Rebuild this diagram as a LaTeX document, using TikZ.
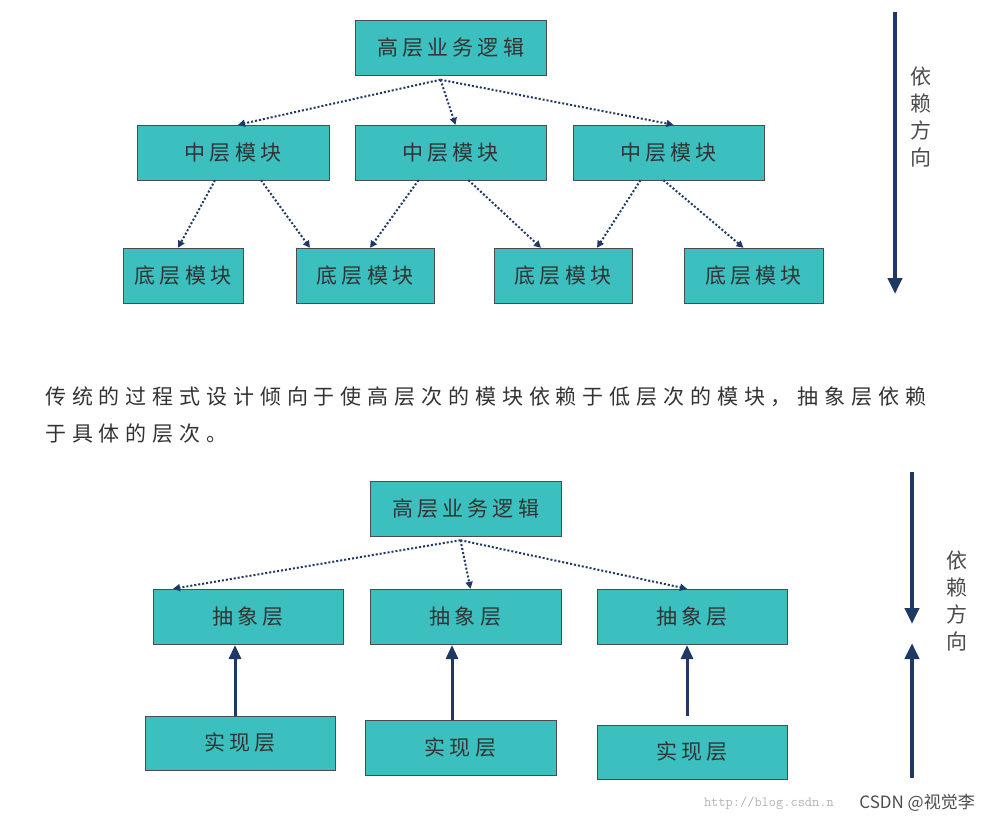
\documentclass[tikz,border=0pt]{standalone}
\usepackage{fontspec}
\setmainfont{Noto Sans CJK SC}
\usetikzlibrary{arrows.meta}
\definecolor{tealbox}{HTML}{3CBFBF}
\definecolor{navy}{HTML}{1F3864}
\begin{document}
\begin{tikzpicture}[x=1pt,y=-1pt,
 box/.style={draw=black!70,fill=tealbox,minimum height=55pt,inner sep=0pt,font=\fontsize{21}{22}\selectfont\addfontfeatures{LetterSpace=20},text=black!80},
 dep/.style={navy,line width=2pt,dotted,-{Triangle[length=7pt,width=7pt]}},
 big/.style={navy,line width=4pt,-{Triangle[length=16pt,width=14pt]}},
 vt/.style={font=\fontsize{21}{27}\selectfont,text=black!70,align=center},
 para/.style={anchor=west,font=\fontsize{21}{22}\selectfont\addfontfeatures{LetterSpace=28},text=black!80,inner sep=0pt}]
\useasboundingbox (0,0) rectangle (987,824);
% top diagram
\node[box,minimum width=191pt] (h1) at (450.5,48) {高层业务逻辑};
\node[box,minimum width=192pt] (m1) at (233,152.5) {中层模块};
\node[box,minimum width=191pt] (m2) at (450.5,152.5) {中层模块};
\node[box,minimum width=191pt] (m3) at (668.5,152.5) {中层模块};
\node[box,minimum width=120pt] (b1) at (183,275.5) {底层模块};
\node[box,minimum width=138pt] (b2) at (365,275.5) {底层模块};
\node[box,minimum width=138pt] (b3) at (563,275.5) {底层模块};
\node[box,minimum width=139pt] (b4) at (753.5,275.5) {底层模块};
\draw[dep] (h1.south) ++(-10,4) -- ([xshift=5pt]m1.north);
\draw[dep] (h1.south) ++(-10,4) -- ([xshift=5pt]m2.north);
\draw[dep] (h1.south) ++(-10,4) -- ([xshift=5pt]m3.north);
\draw[dep] ([xshift=-18pt]m1.south) -- ([xshift=-5pt]b1.north);
\draw[dep] ([xshift=28pt]m1.south) -- ([xshift=-55pt]b2.north);
\draw[dep] ([xshift=-32pt]m2.south) -- ([xshift=5pt]b2.north);
\draw[dep] ([xshift=18pt]m2.south) -- ([xshift=-22pt]b3.north);
\draw[dep] ([xshift=-28pt]m3.south) -- ([xshift=34pt]b3.north);
\draw[dep] ([xshift=-5pt]m3.south) -- ([xshift=-10pt]b4.north);
\coordinate (a1s) at (895,12); \coordinate (a1e) at (895,294);
\draw[big] (a1s) -- (a1e);
\node[vt] (t1) at (921,117) {依\\赖\\方\\向};
% text
\node[para] (p1) at (45,397) {传统的过程式设计倾向于使高层次的模块依赖于低层次的模块，抽象层依赖};
\node[para] (p2) at (45,434) {于具体的层次。};
% bottom diagram
\node[box,minimum width=191pt] (h2) at (465.5,508.5) {高层业务逻辑};
\node[box,minimum width=190pt] (s1) at (248,616.5) {抽象层};
\node[box,minimum width=191pt] (s2) at (465.5,616.5) {抽象层};
\node[box,minimum width=190pt] (s3) at (692,616.5) {抽象层};
\node[box,minimum width=190pt,minimum height=54pt] (r1) at (240,743) {实现层};
\node[box,minimum width=191pt] (r2) at (460.5,747.5) {实现层};
\node[box,minimum width=190pt,minimum height=54pt] (r3) at (692,752) {实现层};
\draw[dep] (h2.south) ++(-5,4) -- ([xshift=-75pt]s1.north);
\draw[dep] (h2.south) ++(-5,4) -- ([xshift=5pt]s2.north);
\draw[dep] (h2.south) ++(-5,4) -- ([xshift=-5pt]s3.north);
\coordinate (u1) at (235,716); \coordinate (u1e) at (235,645);
\coordinate (u2) at (452,720); \coordinate (u2e) at (452,645);
\coordinate (u3) at (687,716); \coordinate (u3e) at (687,645);
\draw[big,line width=3pt,-{Triangle[length=14pt,width=12pt]}] (u1) -- (u1e);
\draw[big,line width=3pt,-{Triangle[length=14pt,width=12pt]}] (u2) -- (u2e);
\draw[big,line width=3pt,-{Triangle[length=14pt,width=12pt]}] (u3) -- (u3e);
\draw[big] (912,472) -- (912,624);
\draw[big] (912,778) -- (912,643);
\node[vt] (t2) at (957,601) {依\\赖\\方\\向};
\node[anchor=east,font=\fontsize{14}{16}\selectfont\ttfamily,text=black!30,inner sep=0pt] (w) at (834,803) {http://blog.csdn.n};
\node[anchor=east,font=\fontsize{17}{18}\selectfont,text=black!70,inner sep=0pt] (w2) at (975,803) {CSDN @视觉李};
\end{tikzpicture}
\end{document}
